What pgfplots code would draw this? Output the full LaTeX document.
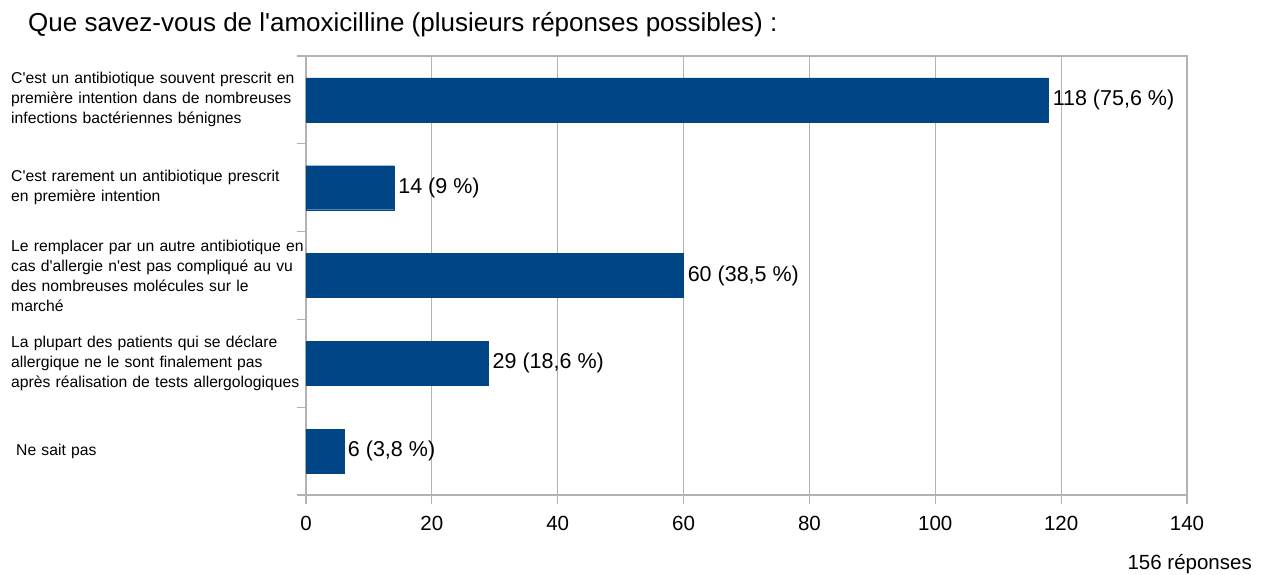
\documentclass[border=0pt]{standalone}
\usepackage{fontspec}
\setmainfont{Liberation Sans}[Ligatures=TeXOff]
\usepackage{pgfplots}
\pgfplotsset{compat=1.18}
\definecolor{barblue}{HTML}{004586}
\definecolor{gridgray}{HTML}{B3B3B3}
\begin{document}
\begin{tikzpicture}[x=1pt,y=1pt]
\path[use as bounding box] (0,0) rectangle (1264,575);
\node[anchor=west,inner sep=0,font=\fontsize{26}{30}\selectfont] at (28,550) {Que savez-vous de l'amoxicilline (plusieurs réponses possibles) :};
\node[anchor=base east,inner sep=0,font=\fontsize{20.5}{24}\selectfont] at (1252,5) {156 réponses};
\begin{axis}[
  at={(306pt,80pt)}, anchor=south west,
  scale only axis, width=881pt, height=439pt,
  xmin=0, xmax=140, ymin=-0.5, ymax=4.5,
  y dir=reverse,
  xbar, bar width=44pt,
  axis line style={draw=gridgray, line width=1.2pt},
  xmajorgrids, grid style={draw=gridgray, line width=1.2pt},
  xtick={0,20,...,140},
  xtick pos=bottom, ytick pos=left,
  tick align=outside,
  major tick length=8.5pt,
  tick style={draw=gridgray, line width=1.2pt},
  ytick={-0.5,0.5,1.5,2.5,3.5,4.5},
  yticklabels={},
  extra y ticks={0,1,2,3,4},
  extra y tick labels={
    {C'est un antibiotique souvent prescrit en\\première intention dans de nombreuses\\infections bactériennes bénignes},
    {C'est rarement un antibiotique prescrit\\en première intention},
    {Le remplacer par un autre antibiotique en\\cas d'allergie n'est pas compliqué au vu\\des nombreuses molécules sur le\\marché},
    {La plupart des patients qui se déclare\\allergique ne le sont finalement pas\\après réalisation de tests allergologiques},
    {\hspace*{5pt}Ne sait pas}},
  extra y tick style={
    major tick length=0pt,
    tick style={draw=none},
    yticklabel style={anchor=west, xshift=-295pt, text width=310pt, align=left, inner sep=0pt, font=\fontsize{15.7}{20}\selectfont},
  },
  xticklabel style={font=\fontsize{20.5}{24}\selectfont, anchor=center, yshift=-20pt},
  /pgf/number format/assume math mode=true,
  point meta=explicit symbolic,
  nodes near coords,
  nodes near coords style={anchor=west, inner sep=0pt, xshift=4pt, font=\fontsize{21.5}{24}\selectfont, text=black},
]
\addplot[fill=barblue, draw=barblue] coordinates {
  (118,0) [118 (75,6 \%)]
  (14,1) [14 (9 \%)]
  (60,2) [60 (38,5 \%)]
  (29,3) [29 (18,6 \%)]
  (6,4) [6 (3,8 \%)]
};
\end{axis}
\end{tikzpicture}
\end{document}
